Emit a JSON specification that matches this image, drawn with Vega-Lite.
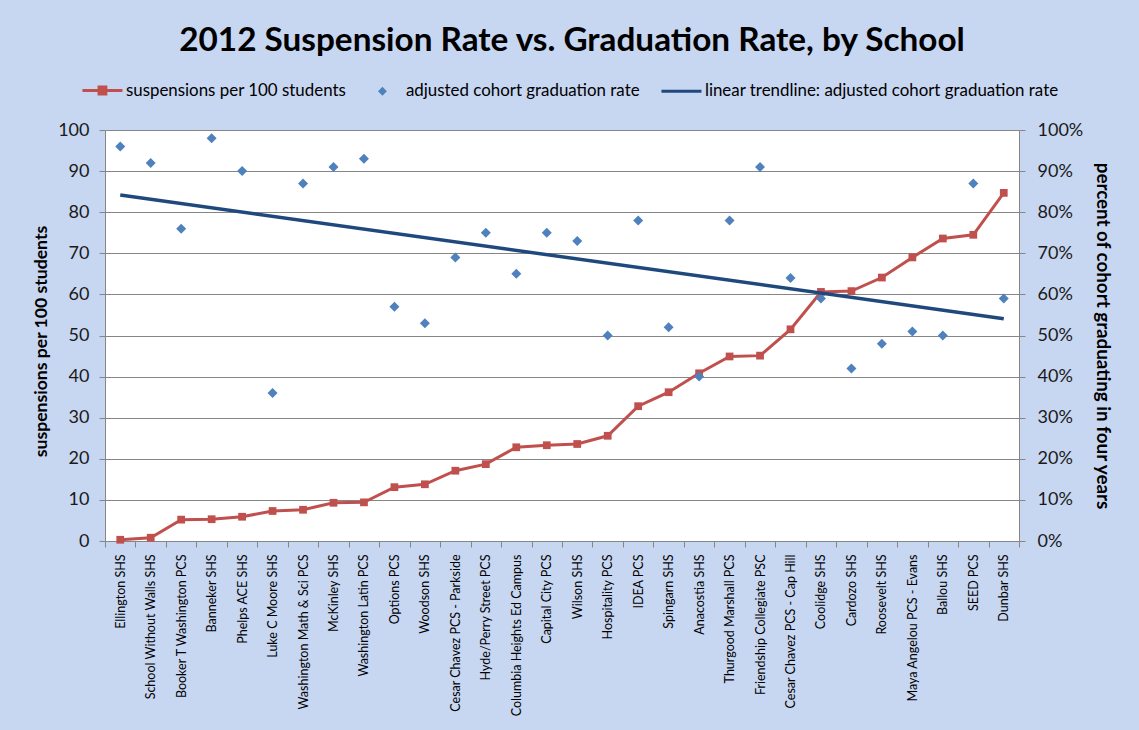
{
  "$schema": "https://vega.github.io/schema/vega-lite/v6.json",
  "width": 914,
  "height": 411,
  "autosize": {"type": "none"},
  "padding": {"left": 105, "top": 130, "right": 120, "bottom": 189},
  "background": "#c7d6f1",
  "title": {
    "text": "2012 Suspension Rate vs. Graduation Rate, by School",
    "font": "Lato",
    "fontSize": 33.3,
    "fontWeight": "bold",
    "color": "black",
    "anchor": "middle",
    "dx": 10,
    "offset": 24
  },
  "datasets": {
    "schools": [
      {"school": "Ellington SHS", "susp": 0.3, "grad": 0.96},
      {"school": "School Without Walls SHS", "susp": 0.8, "grad": 0.92},
      {"school": "Booker T Washington PCS", "susp": 5.2, "grad": 0.76},
      {"school": "Banneker SHS", "susp": 5.3, "grad": 0.98},
      {"school": "Phelps ACE SHS", "susp": 5.9, "grad": 0.90},
      {"school": "Luke C Moore SHS", "susp": 7.3, "grad": 0.36},
      {"school": "Washington Math & Sci PCS", "susp": 7.6, "grad": 0.87},
      {"school": "McKinley SHS", "susp": 9.3, "grad": 0.91},
      {"school": "Washington Latin PCS", "susp": 9.4, "grad": 0.93},
      {"school": "Options PCS", "susp": 13.1, "grad": 0.57},
      {"school": "Woodson SHS", "susp": 13.8, "grad": 0.53},
      {"school": "Cesar Chavez PCS - Parkside", "susp": 17.1, "grad": 0.69},
      {"school": "Hyde/Perry Street PCS", "susp": 18.7, "grad": 0.75},
      {"school": "Columbia Heights Ed Campus", "susp": 22.8, "grad": 0.65},
      {"school": "Capital City PCS", "susp": 23.3, "grad": 0.75},
      {"school": "Wilson SHS", "susp": 23.6, "grad": 0.73},
      {"school": "Hospitality PCS", "susp": 25.6, "grad": 0.50},
      {"school": "IDEA PCS", "susp": 32.8, "grad": 0.78},
      {"school": "Spingarn SHS", "susp": 36.2, "grad": 0.52},
      {"school": "Anacostia SHS", "susp": 40.8, "grad": 0.40},
      {"school": "Thurgood Marshall PCS", "susp": 44.9, "grad": 0.78},
      {"school": "Friendship Collegiate PSC", "susp": 45.1, "grad": 0.91},
      {"school": "Cesar Chavez PCS - Cap Hill", "susp": 51.5, "grad": 0.64},
      {"school": "Coolidge SHS", "susp": 60.6, "grad": 0.59},
      {"school": "Cardozo SHS", "susp": 60.8, "grad": 0.42},
      {"school": "Roosevelt SHS", "susp": 64.1, "grad": 0.48},
      {"school": "Maya Angelou PCS - Evans", "susp": 69.0, "grad": 0.51},
      {"school": "Ballou SHS", "susp": 73.6, "grad": 0.50},
      {"school": "SEED PCS", "susp": 74.5, "grad": 0.87},
      {"school": "Dunbar SHS", "susp": 84.7, "grad": 0.59}
    ],
    "trend": [
      {"school": "Ellington SHS", "trend": 0.842},
      {"school": "Dunbar SHS", "trend": 0.541}
    ]
  },
  "encoding": {
    "x": {
      "field": "school",
      "type": "nominal",
      "sort": null,
      "scale": {"type": "band", "paddingInner": 0, "paddingOuter": 0},
      "axis": {
        "title": null,
        "labelAngle": -90,
        "labelFont": "Lato",
        "labelFontSize": 12.5,
        "labelColor": "black",
        "labelPadding": 7,
        "tickBand": "extent",
        "tickSize": 6,
        "tickColor": "#868686",
        "domainColor": "#868686",
        "labelOverlap": false,
        "labelLimit": 0
      }
    }
  },
  "layer": [
    {
      "data": {"name": "schools"},
      "mark": {
        "type": "line",
        "strokeWidth": 3,
        "point": {"shape": "square", "size": 60, "filled": true}
      },
      "encoding": {
        "y": {
          "field": "susp",
          "type": "quantitative",
          "scale": {"domain": [0, 100], "nice": false},
          "axis": {
            "title": "suspensions per 100 students",
            "titleFont": "Lato",
            "titleFontSize": 17.6,
            "titleFontWeight": "bold",
            "titleColor": "black",
            "titlePadding": 7,
            "titleY": 211,
            "values": [0, 10, 20, 30, 40, 50, 60, 70, 80, 90, 100],
            "labelFont": "Lato",
            "labelFontSize": 18,
            "labelColor": "#1a1a1a",
            "labelPadding": 10,
            "tickSize": 6,
            "tickColor": "#868686",
            "domainColor": "#868686",
            "grid": true,
            "gridColor": "#868686",
            "gridWidth": 1
          }
        },
        "color": {
          "datum": "suspensions per 100 students",
          "type": "nominal",
          "scale": {
            "domain": ["suspensions per 100 students", "adjusted cohort graduation rate", "linear trendline: adjusted cohort graduation rate"],
            "range": ["#c0504d", "#4f81bd", "#1f497d"]
          },
          "legend": {
            "orient": "none",
            "legendX": -11,
            "legendY": -48,
            "direction": "horizontal",
            "title": null,
            "symbolSize": 1600,
            "labelFont": "Lato",
            "labelFontSize": 16.9,
            "labelColor": "black",
            "labelOffset": 15,
            "labelLimit": 0,
            "columnPadding": 15,
            "encode": {
              "symbols": {
                "update": {
                  "shape": {"signal": "datum.value === 'suspensions per 100 students' ? 'M-1,0H1M-0.17,-0.17H0.17V0.17H-0.17Z' : datum.value === 'adjusted cohort graduation rate' ? 'M-1,0H1M0,-0.22L0.22,0L0,0.22L-0.22,0Z' : 'M-1,0H1'"},
                  "fill": {"scale": "color", "field": "value"},
                  "stroke": {"scale": "color", "field": "value"},
                  "strokeWidth": {"signal": "datum.value === 'adjusted cohort graduation rate' ? 0 : 3"},
                  "opacity": {"value": 1}
                }
              }
            }
          }
        }
      }
    },
    {
      "layer": [
        {
          "data": {"name": "schools"},
          "mark": {"type": "point", "shape": "diamond", "filled": true, "size": 100, "opacity": 1},
          "encoding": {
            "y": {
              "field": "grad",
              "type": "quantitative",
              "scale": {"domain": [0, 1], "nice": false},
              "axis": {
                "orient": "right",
                "title": "percent of cohort graduating in four years",
                "titleFont": "Lato",
                "titleFontSize": 18.8,
                "titleFontWeight": "bold",
                "titleColor": "black",
                "titlePadding": 10,
                "values": [0, 0.1, 0.2, 0.3, 0.4, 0.5, 0.6, 0.7, 0.8, 0.9, 1],
                "format": ".0%",
                "labelFont": "Lato",
                "labelFontSize": 18,
                "labelColor": "#1a1a1a",
                "labelPadding": 12,
                "tickSize": 6,
                "tickColor": "#868686",
                "domainColor": "#868686",
                "grid": false
              }
            },
            "color": {"datum": "adjusted cohort graduation rate", "type": "nominal"}
          }
        },
        {
          "data": {"name": "trend"},
          "mark": {"type": "line", "strokeWidth": 3.5},
          "encoding": {
            "y": {
              "field": "trend",
              "type": "quantitative",
              "scale": {"domain": [0, 1], "nice": false},
              "axis": {
                "orient": "right",
                "title": "percent of cohort graduating in four years",
                "titleFont": "Lato",
                "titleFontSize": 18.8,
                "titleFontWeight": "bold",
                "titleColor": "black",
                "titlePadding": 10,
                "values": [0, 0.1, 0.2, 0.3, 0.4, 0.5, 0.6, 0.7, 0.8, 0.9, 1],
                "format": ".0%",
                "labelFont": "Lato",
                "labelFontSize": 18,
                "labelColor": "#1a1a1a",
                "labelPadding": 12,
                "tickSize": 6,
                "tickColor": "#868686",
                "domainColor": "#868686",
                "grid": false
              }
            },
            "color": {"datum": "linear trendline: adjusted cohort graduation rate", "type": "nominal"}
          }
        }
      ]
    }
  ],
  "resolve": {"scale": {"y": "independent"}, "axis": {"y": "independent"}},
  "config": {
    "view": {"fill": "white", "stroke": null},
    "font": "Lato"
  }
}
